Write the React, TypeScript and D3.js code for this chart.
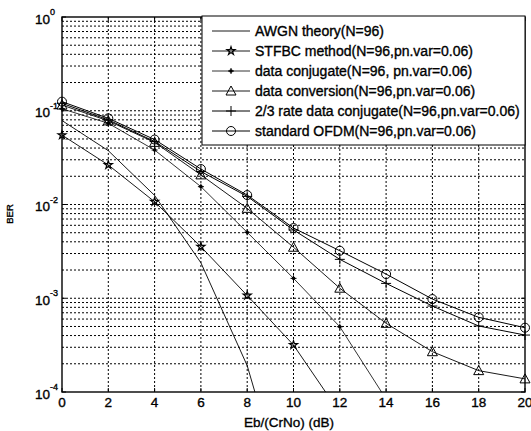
import { useRef, useEffect } from 'react';
import * as d3 from 'd3';

// Eb/(CrNo) in dB
const ebno = [0, 2, 4, 6, 8, 10, 12, 14, 16, 18, 20];

// BER per curve (curves that drop below 1e-4 carry one more point so the line runs off the bottom)
const awgnTheory = [0.0786, 0.0375, 0.0125, 0.00239, 0.000191, 0.0000039];
const stfbc = [0.055, 0.0264, 0.0107, 0.00355, 0.00107, 0.000317, 0.00006];
const dataConjugate = [0.105, 0.0735, 0.0381, 0.0155, 0.00505, 0.00163, 0.000497, 0.000084];
const dataConversion = [0.115, 0.078, 0.046, 0.0207, 0.0091, 0.0035, 0.00128, 0.00054, 0.000269, 0.000169, 0.000138];
const rate23Conjugate = [0.12, 0.08, 0.047, 0.0225, 0.0122, 0.00535, 0.0026, 0.00144, 0.000826, 0.000506, 0.000405];
const standardOfdm = [0.125, 0.083, 0.0493, 0.0239, 0.0126, 0.00561, 0.00321, 0.00181, 0.00098, 0.000626, 0.000485];

const legendLabels = [
  'AWGN theory(N=96)',
  'STFBC method(N=96,pn.var=0.06)',
  'data conjugate(N=96, pn.var=0.06)',
  'data conversion(N=96,pn.var=0.06)',
  '2/3 rate data conjugate(N=96,pn.var=0.06)',
  'standard OFDM(N=96,pn.var=0.06)',
];

const xTicks = [0, 2, 4, 6, 8, 10, 12, 14, 16, 18, 20];
const yDecades = [0, -1, -2, -3, -4];

type Marker = 'none' | 'star' | 'dot' | 'triangle' | 'plus' | 'circle';

const series: { values: number[]; marker: Marker; width: number }[] = [
  { values: awgnTheory, marker: 'none', width: 0.9 },
  { values: stfbc, marker: 'star', width: 0.9 },
  { values: dataConjugate, marker: 'dot', width: 0.8 },
  { values: dataConversion, marker: 'triangle', width: 0.9 },
  { values: rate23Conjugate, marker: 'plus', width: 1 },
  { values: standardOfdm, marker: 'circle', width: 1 },
];

const FONT = '"Liberation Sans", Arial, sans-serif';

function drawMarker(g: d3.Selection<SVGGElement, unknown, null, undefined>, kind: Marker, cx: number, cy: number) {
  if (kind === 'none') return;
  if (kind === 'star') {
    g.append('path')
      .attr('d', d3.symbol(d3.symbolStar, 20)())
      .attr('transform', `translate(${cx},${cy})`)
      .attr('fill', 'none').attr('stroke', '#000').attr('stroke-width', 1.2);
  } else if (kind === 'dot') {
    g.append('path').attr('d', `M${cx - 3},${cy}H${cx + 3}M${cx},${cy - 3}V${cy + 3}`)
      .attr('stroke', '#000').attr('stroke-width', 1);
    g.append('circle').attr('cx', cx).attr('cy', cy).attr('r', 1.8).attr('fill', '#000');
  } else if (kind === 'triangle') {
    g.append('path')
      .attr('d', `M${cx},${cy - 5}L${cx + 5},${cy + 4}L${cx - 5},${cy + 4}Z`)
      .attr('fill', 'none').attr('stroke', '#000').attr('stroke-width', 1);
  } else if (kind === 'plus') {
    g.append('path').attr('d', `M${cx - 5},${cy}H${cx + 5}M${cx},${cy - 5}V${cy + 5}`)
      .attr('stroke', '#000').attr('stroke-width', 1);
  } else if (kind === 'circle') {
    g.append('circle').attr('cx', cx).attr('cy', cy).attr('r', 4.5)
      .attr('fill', 'none').attr('stroke', '#000').attr('stroke-width', 1);
  }
}

export default function App() {
  const svgRef = useRef<SVGSVGElement>(null);

  useEffect(() => {
    if (!svgRef.current) return;
    const W = 531, H = 431;
    const left = 62, right = 525, top = 17, bottom = 392;

    const svg = d3.select(svgRef.current);
    svg.selectAll('*').remove();
    svg.attr('width', W).attr('height', H).attr('viewBox', `0 0 ${W} ${H}`);
    svg.append('rect').attr('width', W).attr('height', H).attr('fill', '#fff');

    const x = d3.scaleLinear().domain([0, 20]).range([left, right]);
    const y = d3.scaleLog().domain([1e-4, 1]).range([bottom, top]);

    svg.append('defs').append('clipPath').attr('id', 'plotclip')
      .append('rect').attr('x', left).attr('y', top).attr('width', right - left).attr('height', bottom - top);

    // grid — dotted, every x tick and every log minor
    const grid = svg.append('g').attr('stroke', '#000').attr('stroke-width', 1).attr('stroke-dasharray', '2,2');
    xTicks.slice(1, -1).forEach(t => {
      grid.append('line').attr('x1', x(t)).attr('x2', x(t)).attr('y1', top).attr('y2', bottom);
    });
    yDecades.forEach(e => {
      if (e === -4) return;
      for (let m = 1; m <= 9; m++) {
        const v = m * Math.pow(10, e - 1);
        if (v <= 1e-4 || v >= 1) continue;
        grid.append('line').attr('x1', left).attr('x2', right).attr('y1', y(v)).attr('y2', y(v));
      }
    });

    // tick marks inside the frame
    const ticks = svg.append('g').attr('stroke', '#000').attr('stroke-width', 1);
    xTicks.forEach(t => {
      ticks.append('line').attr('x1', x(t)).attr('x2', x(t)).attr('y1', bottom).attr('y2', bottom - 4);
      ticks.append('line').attr('x1', x(t)).attr('x2', x(t)).attr('y1', top).attr('y2', top + 4);
    });
    yDecades.forEach(e => {
      const v = Math.pow(10, e);
      ticks.append('line').attr('x1', left).attr('x2', left + 4).attr('y1', y(v)).attr('y2', y(v));
      ticks.append('line').attr('x1', right).attr('x2', right - 4).attr('y1', y(v)).attr('y2', y(v));
    });

    // curves
    const line = d3.line<number>().x((_, i) => x(ebno[i])).y(d => y(d));
    const curves = svg.append('g').attr('clip-path', 'url(#plotclip)');
    series.forEach(s => {
      curves.append('path').attr('d', line(s.values)!)
        .attr('fill', 'none').attr('stroke', '#000').attr('stroke-width', s.width);
    });
    const marks = svg.append('g');
    series.forEach(s => {
      s.values.forEach((v, i) => {
        if (v < 1e-4) return;
        drawMarker(marks, s.marker, x(ebno[i]), y(v));
      });
    });

    // frame
    svg.append('rect').attr('x', left).attr('y', top).attr('width', right - left).attr('height', bottom - top)
      .attr('fill', 'none').attr('stroke', '#000').attr('stroke-width', 1.4);

    const txt = (sel: d3.Selection<SVGTextElement, unknown, null, undefined>, size: number) =>
      sel.attr('font-family', FONT).attr('font-size', size).attr('fill', '#000')
        .attr('stroke', '#000').attr('stroke-width', 0.35);

    // x tick labels
    xTicks.forEach(t => {
      txt(svg.append('text'), 13.5).attr('x', x(t)).attr('y', bottom + 15).attr('text-anchor', 'middle').text(String(t));
    });
    txt(svg.append('text'), 13.5).attr('x', 289).attr('y', 427).attr('text-anchor', 'middle').text('Eb/(CrNo) (dB)');

    // y tick labels 10^e
    yDecades.forEach(e => {
      const ty = y(Math.pow(10, e));
      txt(svg.append('text'), 13.5).attr('x', 50).attr('y', ty + 6.5).attr('text-anchor', 'end').text('10');
      txt(svg.append('text'), 9).attr('x', 50).attr('y', ty - 2).attr('text-anchor', 'start').text(String(e));
    });
    txt(svg.append('text'), 9.5).attr('transform', 'translate(13,214) rotate(-90)').attr('text-anchor', 'middle').text('BER');

    // legend
    const lg = svg.append('g');
    lg.append('rect').attr('x', 202).attr('y', 16).attr('width', right - 202).attr('height', 129)
      .attr('fill', '#fff').attr('stroke', '#000').attr('stroke-width', 1);
    series.forEach((s, i) => {
      const ry = 31 + i * 20;
      lg.append('line').attr('x1', 212).attr('x2', 250).attr('y1', ry).attr('y2', ry)
        .attr('stroke', '#000').attr('stroke-width', s.width);
      drawMarker(lg, s.marker, 231, ry);
      txt(lg.append('text'), 14).attr('x', 255).attr('y', ry + 5).text(legendLabels[i]);
    });
  }, []);

  return (
    <div style={{ position: 'fixed', left: 0, top: 0, width: 531, height: 431, background: '#fff' }}>
      <svg ref={svgRef} style={{ display: 'block' }} />
    </div>
  );
}
